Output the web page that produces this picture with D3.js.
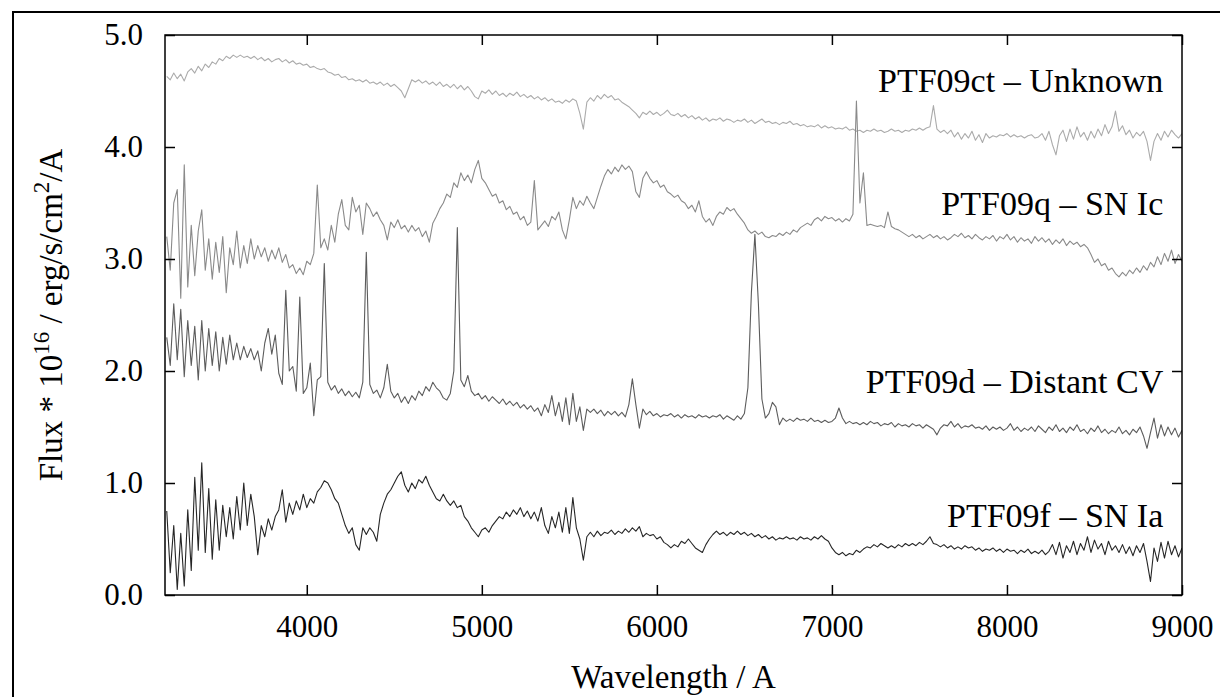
<!DOCTYPE html>
<html>
<head>
<meta charset="utf-8">
<script src="https://cdn.jsdelivr.net/npm/d3@7"></script>
<style>
  html, body { margin: 0; padding: 0; background: #fff; }
  svg { display: block; font-family: "Liberation Serif", "DejaVu Serif", serif; }
</style>
</head>
<body>
<svg id="chart" width="1220" height="697"></svg>
<script>
let wavelength = d3.range(3200, 9001, 20);

let fluxCt = [
  4.63,4.60,4.66,4.61,4.65,4.59,4.67,4.70,4.66,4.72,
  4.68,4.74,4.71,4.76,4.74,4.79,4.77,4.81,4.79,4.82,
  4.80,4.82,4.80,4.81,4.79,4.81,4.78,4.80,4.77,4.79,
  4.76,4.78,4.79,4.76,4.78,4.75,4.77,4.74,4.75,4.73,
  4.74,4.71,4.72,4.70,4.69,4.70,4.67,4.66,4.64,4.65,
  4.62,4.63,4.60,4.61,4.59,4.60,4.58,4.60,4.57,4.58,
  4.56,4.58,4.55,4.57,4.54,4.56,4.53,4.50,4.44,4.52,
  4.60,4.58,4.60,4.57,4.59,4.56,4.58,4.55,4.58,4.54,
  4.56,4.53,4.56,4.52,4.55,4.51,4.54,4.50,4.45,4.43,
  4.50,4.48,4.51,4.47,4.50,4.46,4.48,4.45,4.48,4.46,
  4.49,4.45,4.47,4.44,4.46,4.43,4.45,4.42,4.44,4.41,
  4.43,4.40,4.41,4.39,4.42,4.40,4.43,4.41,4.30,4.16,
  4.40,4.44,4.41,4.46,4.43,4.47,4.44,4.46,4.42,4.43,
  4.40,4.38,4.36,4.33,4.30,4.26,4.31,4.29,4.32,4.29,
  4.31,4.28,4.30,4.33,4.29,4.28,4.30,4.27,4.29,4.26,
  4.28,4.25,4.27,4.24,4.26,4.23,4.25,4.24,4.26,4.23,
  4.25,4.24,4.22,4.24,4.23,4.25,4.22,4.24,4.21,4.23,
  4.25,4.22,4.23,4.21,4.22,4.20,4.22,4.21,4.23,4.20,
  4.21,4.19,4.20,4.18,4.19,4.18,4.20,4.17,4.19,4.17,
  4.18,4.16,4.17,4.16,4.18,4.15,4.16,4.14,4.15,4.13,
  4.15,4.14,4.16,4.14,4.15,4.13,4.14,4.16,4.14,4.15,
  4.13,4.15,4.14,4.16,4.15,4.17,4.15,4.17,4.18,4.37,
  4.16,4.13,4.15,4.12,4.15,4.09,4.13,4.07,4.12,4.08,
  4.14,4.06,4.11,4.04,4.12,4.08,4.10,4.09,4.11,4.10,
  4.12,4.09,4.11,4.09,4.10,4.08,4.10,4.11,4.08,4.09,
  4.12,4.06,4.14,4.02,3.93,4.10,4.15,4.05,4.16,4.07,
  4.18,4.09,4.13,4.06,4.14,4.08,4.16,4.10,4.20,4.12,
  4.18,4.32,4.14,4.19,4.11,4.15,4.08,4.13,4.10,4.14,
  4.05,3.88,4.05,4.12,4.06,4.14,4.09,4.15,4.11,4.08,4.12
];

let fluxQ = [
  3.20,2.90,3.50,3.62,2.65,3.84,2.75,3.30,2.85,3.25,
  3.44,2.90,3.18,2.82,3.15,2.88,3.20,2.70,3.10,2.95,
  3.25,2.92,3.12,2.96,3.18,3.00,3.12,3.02,3.10,2.98,
  3.08,3.00,3.10,2.97,3.04,2.92,2.95,2.87,2.92,2.86,
  2.98,2.95,3.05,3.66,3.10,3.18,3.08,3.30,3.15,3.40,
  3.53,3.30,3.26,3.55,3.42,3.48,3.22,3.50,3.45,3.38,
  3.42,3.35,3.30,3.17,3.33,3.28,3.35,3.27,3.30,3.24,
  3.30,3.25,3.28,3.20,3.25,3.15,3.32,3.38,3.45,3.50,
  3.58,3.55,3.68,3.64,3.77,3.70,3.75,3.68,3.80,3.88,
  3.72,3.68,3.62,3.56,3.58,3.50,3.52,3.44,3.47,3.40,
  3.42,3.35,3.38,3.30,3.33,3.70,3.26,3.30,3.34,3.29,
  3.38,3.35,3.42,3.26,3.18,3.35,3.55,3.45,3.52,3.48,
  3.56,3.50,3.45,3.55,3.65,3.74,3.80,3.76,3.82,3.78,
  3.84,3.80,3.83,3.78,3.60,3.55,3.72,3.78,3.72,3.68,
  3.70,3.64,3.66,3.60,3.58,3.55,3.57,3.52,3.50,3.45,
  3.48,3.42,3.52,3.38,3.33,3.36,3.30,3.38,3.42,3.40,
  3.46,3.43,3.45,3.40,3.36,3.32,3.26,3.23,3.25,3.22,
  3.24,3.20,3.19,3.21,3.20,3.23,3.21,3.24,3.22,3.26,
  3.24,3.28,3.30,3.32,3.30,3.35,3.37,3.34,3.38,3.36,
  3.37,3.34,3.36,3.33,3.36,3.34,3.40,4.41,3.50,3.77,
  3.30,3.31,3.30,3.29,3.30,3.28,3.42,3.29,3.27,3.26,
  3.24,3.22,3.20,3.22,3.19,3.21,3.18,3.20,3.22,3.19,
  3.21,3.18,3.20,3.17,3.19,3.22,3.20,3.23,3.19,3.21,
  3.18,3.22,3.19,3.17,3.20,3.18,3.21,3.16,3.20,3.18,
  3.22,3.17,3.20,3.15,3.19,3.16,3.18,3.14,3.20,3.16,
  3.19,3.15,3.18,3.13,3.17,3.14,3.18,3.12,3.16,3.13,
  3.15,3.11,3.13,3.10,3.04,2.97,3.00,2.94,2.96,2.90,
  2.92,2.87,2.84,2.88,2.85,2.90,2.87,2.92,2.88,2.94,
  2.90,2.97,2.93,3.02,2.95,3.05,2.98,3.08,2.96,3.04,2.98
];

let fluxD = [
  2.30,2.05,2.60,2.10,2.55,1.95,2.45,2.05,2.40,1.92,
  2.45,2.00,2.38,2.05,2.35,2.00,2.30,2.06,2.32,2.10,
  2.25,2.10,2.22,2.12,2.20,2.10,2.18,2.00,2.25,2.38,
  2.15,2.32,1.98,1.88,2.72,2.00,2.04,1.82,2.66,1.80,
  1.85,2.07,1.60,1.92,1.95,2.96,1.90,1.83,1.87,1.80,
  1.84,1.78,1.82,1.77,1.81,1.76,1.90,3.06,1.88,1.80,
  1.83,1.76,1.85,2.06,1.82,1.76,1.80,1.72,1.77,1.71,
  1.78,1.74,1.82,1.78,1.86,1.82,1.90,1.85,1.82,1.76,
  1.74,1.80,2.00,3.28,1.92,1.86,1.96,1.82,1.78,1.80,
  1.75,1.78,1.73,1.77,1.74,1.71,1.75,1.70,1.73,1.69,
  1.72,1.67,1.70,1.66,1.69,1.64,1.67,1.60,1.70,1.63,
  1.78,1.60,1.72,1.55,1.76,1.52,1.80,1.55,1.68,1.47,
  1.66,1.63,1.66,1.62,1.65,1.60,1.64,1.61,1.64,1.60,
  1.63,1.59,1.70,1.93,1.70,1.49,1.66,1.61,1.64,1.60,
  1.62,1.59,1.61,1.60,1.62,1.59,1.61,1.58,1.61,1.59,
  1.60,1.58,1.61,1.59,1.60,1.58,1.60,1.59,1.61,1.57,
  1.60,1.58,1.56,1.60,1.57,1.62,1.85,2.70,3.22,2.60,
  1.75,1.58,1.62,1.72,1.68,1.52,1.58,1.55,1.57,1.55,
  1.58,1.56,1.57,1.55,1.58,1.55,1.56,1.54,1.56,1.54,
  1.55,1.58,1.67,1.58,1.53,1.55,1.53,1.54,1.52,1.54,
  1.52,1.55,1.53,1.54,1.51,1.53,1.52,1.54,1.50,1.53,
  1.51,1.52,1.50,1.53,1.51,1.52,1.49,1.52,1.50,1.48,
  1.43,1.49,1.52,1.51,1.55,1.50,1.53,1.49,1.51,1.50,
  1.52,1.49,1.50,1.48,1.51,1.47,1.50,1.48,1.50,1.47,
  1.49,1.53,1.47,1.50,1.46,1.49,1.47,1.50,1.46,1.51,
  1.48,1.45,1.50,1.47,1.52,1.46,1.49,1.45,1.50,1.47,
  1.52,1.46,1.48,1.44,1.49,1.46,1.51,1.45,1.48,1.44,
  1.47,1.45,1.50,1.44,1.47,1.43,1.48,1.45,1.50,1.42,
  1.31,1.45,1.58,1.40,1.52,1.42,1.50,1.43,1.49,1.41,1.47
];

let fluxF = [
  0.75,0.20,0.62,0.05,0.55,0.08,0.76,0.22,1.05,0.40,
  1.18,0.38,0.95,0.32,0.85,0.40,0.80,0.52,0.78,0.50,
  0.88,0.58,1.00,0.62,0.90,0.70,0.36,0.62,0.52,0.68,
  0.58,0.70,0.76,0.94,0.65,0.82,0.72,0.84,0.76,0.90,
  0.78,0.86,0.82,0.92,0.96,1.02,1.00,0.94,0.86,0.82,
  0.72,0.62,0.55,0.60,0.45,0.40,0.60,0.54,0.60,0.56,
  0.48,0.72,0.82,0.90,0.94,1.00,1.06,1.10,0.98,0.92,
  1.00,0.95,1.03,1.00,1.06,0.98,0.92,0.86,0.84,0.90,
  0.84,0.80,0.84,0.78,0.80,0.70,0.66,0.60,0.56,0.52,
  0.58,0.60,0.56,0.62,0.66,0.70,0.68,0.74,0.70,0.76,
  0.72,0.78,0.70,0.75,0.68,0.74,0.66,0.78,0.62,0.55,
  0.70,0.60,0.74,0.56,0.78,0.55,0.87,0.60,0.50,0.31,
  0.52,0.56,0.52,0.57,0.53,0.56,0.55,0.58,0.54,0.57,
  0.55,0.59,0.56,0.60,0.57,0.61,0.52,0.55,0.53,0.54,
  0.50,0.52,0.47,0.45,0.42,0.45,0.43,0.48,0.46,0.50,
  0.46,0.42,0.40,0.38,0.45,0.50,0.54,0.57,0.54,0.56,
  0.53,0.56,0.54,0.57,0.54,0.56,0.53,0.55,0.52,0.54,
  0.51,0.53,0.50,0.52,0.49,0.51,0.50,0.52,0.50,0.51,
  0.49,0.52,0.50,0.51,0.49,0.52,0.50,0.53,0.50,0.48,
  0.42,0.38,0.36,0.38,0.35,0.37,0.36,0.40,0.38,0.41,
  0.43,0.42,0.45,0.43,0.46,0.44,0.42,0.44,0.42,0.45,
  0.43,0.46,0.44,0.46,0.44,0.47,0.45,0.48,0.52,0.46,
  0.45,0.43,0.45,0.42,0.44,0.41,0.43,0.41,0.44,0.42,
  0.43,0.40,0.42,0.39,0.41,0.40,0.42,0.39,0.41,0.38,
  0.41,0.39,0.40,0.37,0.40,0.38,0.41,0.37,0.39,0.37,
  0.40,0.36,0.39,0.45,0.36,0.47,0.33,0.44,0.38,0.48,
  0.36,0.46,0.40,0.52,0.38,0.49,0.41,0.46,0.36,0.48,
  0.40,0.44,0.38,0.45,0.37,0.43,0.35,0.44,0.38,0.46,
  0.30,0.12,0.42,0.30,0.47,0.33,0.48,0.36,0.44,0.34,0.42
];

let seriesNames = ["PTF09ct \u2013 Unknown", "PTF09q \u2013 SN Ic", "PTF09d \u2013 Distant CV", "PTF09f \u2013 SN Ia"];
let seriesFlux = [fluxCt, fluxQ, fluxD, fluxF];

let xTicks = [4000, 5000, 6000, 7000, 8000, 9000];
let yTicks = [0, 1, 2, 3, 4, 5];

// look of each spectrum + where its name sits (data units)
let lineColors = ["#ababab", "#8a8a8a", "#5c5c5c", "#262626"];
let labelSpots = [[8893, 4.49], [8893, 3.39], [8893, 1.80], [8893, 0.61]];

let svg = d3.select("#chart");
let margin = {left: 165, top: 35, right: 1182, bottom: 595};

let x = d3.scaleLinear().domain([3190, 9000]).range([margin.left, margin.right]);
let y = d3.scaleLinear().domain([0, 5]).range([margin.bottom, margin.top]);

// outer page frame (only its left and top edge show)
svg.append("line").attr("x1", 13).attr("x2", 13).attr("y1", 12).attr("y2", 697)
    .attr("stroke", "#000").attr("stroke-width", 2);
svg.append("line").attr("x1", 12).attr("x2", 1220).attr("y1", 12).attr("y2", 12)
    .attr("stroke", "#000").attr("stroke-width", 2);

svg.append("clipPath").attr("id", "plot-clip")
  .append("rect")
    .attr("x", margin.left).attr("y", margin.top)
    .attr("width", margin.right - margin.left).attr("height", margin.bottom - margin.top);

let line = d3.line()
    .x(d => x(d[0]))
    .y(d => y(d[1]));

let spectra = svg.append("g").attr("clip-path", "url(#plot-clip)");
seriesFlux.forEach((flux, i) => {
    let pts = wavelength.map((w, j) => [w, flux[j]]);
    spectra.append("path")
        .datum(pts)
        .attr("class", "spectrum")
        .attr("fill", "none")
        .attr("stroke", lineColors[i])
        .attr("stroke-width", 1.1)
        .attr("stroke-linejoin", "round")
        .attr("d", line);
});

// axes, ticks point inwards on all four sides
let tickLen = 10;
function styleAxis(g) {
    g.select(".domain").remove();
    g.selectAll(".tick line").attr("stroke", "#000").attr("stroke-width", 1.5);
    g.selectAll(".tick text").attr("fill", "#000").style("font-size", "31px")
        .style("font-family", "'Liberation Serif', serif");
}

svg.append("g")
    .attr("transform", `translate(0,${margin.bottom})`)
    .call(d3.axisBottom(x).tickValues(xTicks).tickSizeInner(-tickLen).tickPadding(20).tickFormat(d3.format("d")))
    .call(styleAxis);
svg.append("g")
    .attr("transform", `translate(0,${margin.top})`)
    .call(d3.axisTop(x).tickValues(xTicks).tickSizeInner(-tickLen).tickFormat(""))
    .call(styleAxis);
svg.append("g")
    .attr("transform", `translate(${margin.left},0)`)
    .call(d3.axisLeft(y).tickValues(yTicks).tickSizeInner(-tickLen).tickPadding(22).tickFormat(d3.format(".1f")))
    .call(styleAxis);
svg.append("g")
    .attr("transform", `translate(${margin.right},0)`)
    .call(d3.axisRight(y).tickValues(yTicks).tickSizeInner(-tickLen).tickFormat(""))
    .call(styleAxis);

svg.append("rect")
    .attr("x", margin.left).attr("y", margin.top)
    .attr("width", margin.right - margin.left).attr("height", margin.bottom - margin.top)
    .attr("fill", "none").attr("stroke", "#000").attr("stroke-width", 1.5);

// spectrum names
svg.selectAll(".series-label")
    .data(seriesNames)
    .join("text")
    .attr("class", "series-label")
    .attr("x", (d, i) => x(labelSpots[i][0]))
    .attr("y", (d, i) => y(labelSpots[i][1]))
    .attr("text-anchor", "end")
    .style("font-size", "34px")
    .text(d => d);

// axis titles
svg.append("text")
    .attr("x", (margin.left + margin.right) / 2)
    .attr("y", 688)
    .attr("text-anchor", "middle")
    .style("font-size", "33px")
    .text("Wavelength / A");

let yTitle = svg.append("text")
    .attr("transform", `translate(62,${(margin.top + margin.bottom) / 2}) rotate(-90)`)
    .attr("text-anchor", "middle")
    .style("font-size", "33px");
yTitle.append("tspan").text("Flux * 10");
yTitle.append("tspan").attr("dy", -13).style("font-size", "23px").text("16");
yTitle.append("tspan").attr("dy", 13).text(" / erg/s/cm");
yTitle.append("tspan").attr("dy", -13).style("font-size", "23px").text("2");
yTitle.append("tspan").attr("dy", 13).text("/A");
</script>
</body>
</html>
